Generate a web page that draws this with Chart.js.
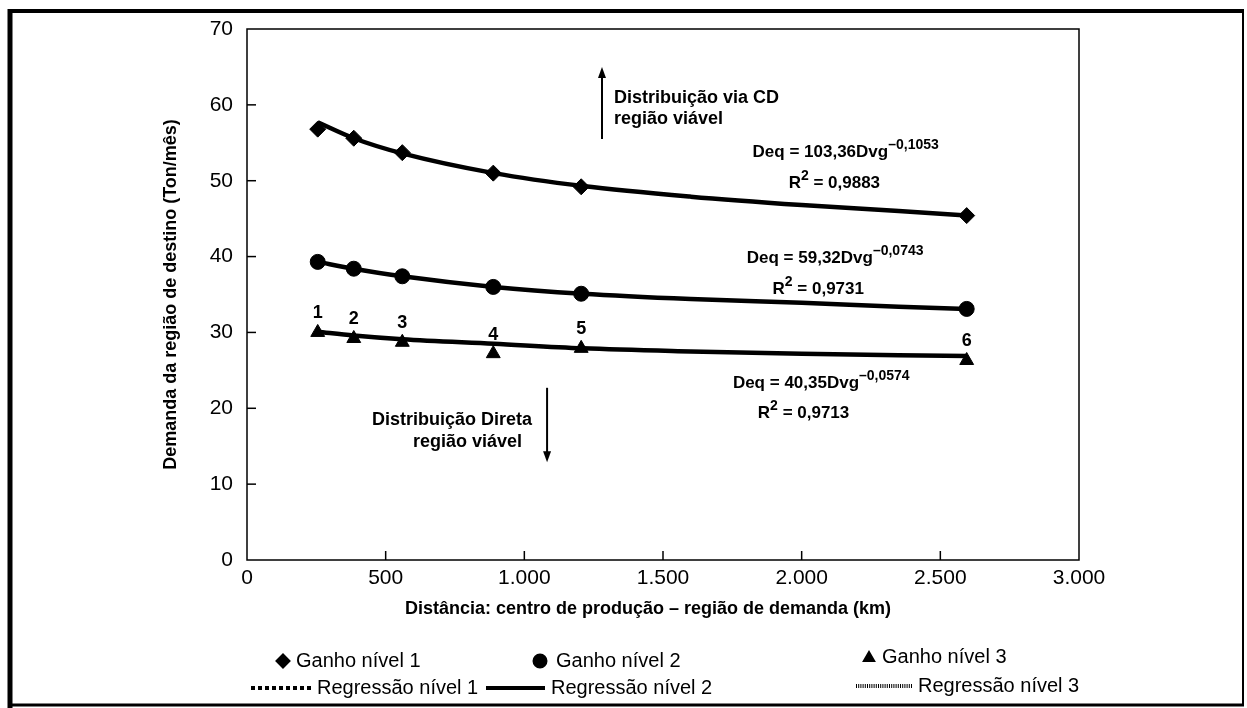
<!DOCTYPE html>
<html lang="pt">
<head>
<meta charset="utf-8">
<title>Demanda da região de destino x distância</title>
<script src="https://cdn.jsdelivr.net/npm/chart.js@4.4.1/dist/chart.umd.min.js"></script>
<style>
  html, body { margin: 0; padding: 0; background: #fff; }
  #wrap { width: 1247px; height: 708px; }
</style>
</head>
<body>
<div id="wrap"><canvas id="demandaChart" width="1247" height="708"></canvas></div>
<script>
// Dados (distância em km, demanda em ton/mês)
const distancias = [255, 385, 560, 888, 1205, 2595];
const ganhoNivel1 = [56.8, 55.6, 53.7, 51.0, 49.2, 45.4];
const ganhoNivel2 = [39.3, 38.4, 37.4, 36.0, 35.1, 33.1];
const ganhoNivel3 = [30.0, 29.2, 28.7, 27.2, 27.9, 26.3];
const rotulosPontos = ["1", "2", "3", "4", "5", "6"];

// Curvas de regressão lidas ao longo do traço
const distRegressao = [255, 385, 560, 890, 1210, 1600, 2000, 2350, 2595];
const regressaoNivel1 = [57.7, 55.6, 53.6, 51.0, 49.3, 47.9, 46.8, 46.0, 45.4];
const regressaoNivel2 = [39.3, 38.4, 37.4, 36.0, 35.1, 34.4, 33.9, 33.4, 33.1];
const regressaoNivel3 = [30.1, 29.6, 29.1, 28.5, 27.9, 27.5, 27.2, 27.0, 26.9];

// Rótulos dos eixos
const yTicks = ["0", "10", "20", "30", "40", "50", "60", "70"];
const xTicks = ["0", "500", "1.000", "1.500", "2.000", "2.500", "3.000"];

const FONTE = '"Liberation Sans", Arial, Helvetica, sans-serif';

function pares(xs, ys) {
    return xs.map((x, i) => ({ x: x, y: ys[i] }));
}

// Textos e setas posicionados em coordenadas do gráfico
const notas = [
    { t: "Distribuição via CD", x: 1323, y: 60.9, align: "left" },
    { t: "região viável", x: 1323, y: 58.1, align: "left" },
    { t: "Distribuição Direta", x: 1028, y: 18.5, align: "right" },
    { t: "região viável", x: 992, y: 15.6, align: "right" },
];
const equacoes = [
    { partes: [["Deq = 103,36Dvg"], ["–0,1053", 1]], x: 1823, y: 53.8 },
    { partes: [["R"], ["2", 1], [" = 0,9883"]], x: 1953, y: 49.7 },
    { partes: [["Deq = 59,32Dvg"], ["–0,0743", 1]], x: 1802, y: 39.8 },
    { partes: [["R"], ["2", 1], [" = 0,9731"]], x: 1895, y: 35.7 },
    { partes: [["Deq = 40,35Dvg"], ["–0,0574", 1]], x: 1752, y: 23.3 },
    { partes: [["R"], ["2", 1], [" = 0,9713"]], x: 1842, y: 19.4 },
];
const setas = [
    { x: 1280, de: 55.5, ate: 65.0 },
    { x: 1082, de: 22.7, ate: 12.9 },
];

function seta(ctx, x, y1, y2) {
    const dir = y2 < y1 ? 1 : -1;
    ctx.beginPath();
    ctx.moveTo(x, y1);
    ctx.lineTo(x, y2 + dir * 8);
    ctx.lineWidth = 2;
    ctx.stroke();
    ctx.beginPath();
    ctx.moveTo(x, y2);
    ctx.lineTo(x - 4, y2 + dir * 11);
    ctx.lineTo(x + 4, y2 + dir * 11);
    ctx.closePath();
    ctx.fill();
}

function marcador(ctx, estilo, x, y, r) {
    Chart.helpers.drawPoint(ctx, { pointStyle: estilo, radius: r, borderWidth: 1, rotation: 0 }, x, y);
}

const decoracao = {
    id: "decoracao",
    afterDraw(chart) {
        const ctx = chart.ctx;
        const a = chart.chartArea;
        const sx = chart.scales.x;
        const sy = chart.scales.y;
        ctx.save();
        ctx.strokeStyle = "#000";
        ctx.fillStyle = "#000";

        // moldura externa
        ctx.lineWidth = 5;
        ctx.beginPath(); ctx.moveTo(10, 9); ctx.lineTo(10, 708); ctx.stroke();
        ctx.lineWidth = 4;
        ctx.beginPath(); ctx.moveTo(8, 11); ctx.lineTo(1244, 11); ctx.stroke();
        ctx.lineWidth = 2;
        ctx.beginPath(); ctx.moveTo(1243, 10); ctx.lineTo(1243, 706); ctx.stroke();
        ctx.lineWidth = 3;
        ctx.beginPath(); ctx.moveTo(8, 705); ctx.lineTo(1244, 705); ctx.stroke();

        // caixa do gráfico e marcas internas
        ctx.lineWidth = 1.5;
        ctx.strokeRect(a.left, a.top, a.right - a.left, a.bottom - a.top);
        sy.ticks.forEach((t) => {
            if (t.value <= 0 || t.value >= 70) return;
            const py = sy.getPixelForValue(t.value);
            ctx.beginPath(); ctx.moveTo(a.left, py); ctx.lineTo(a.left + 9, py); ctx.stroke();
        });
        sx.ticks.forEach((t) => {
            if (t.value <= 0 || t.value >= 3000) return;
            const px = sx.getPixelForValue(t.value);
            ctx.beginPath(); ctx.moveTo(px, a.bottom); ctx.lineTo(px, a.bottom - 9); ctx.stroke();
        });

        // título do eixo x
        ctx.font = "bold 18px " + FONTE;
        ctx.textAlign = "center";
        ctx.textBaseline = "middle";
        ctx.fillText("Distância: centro de produção – região de demanda (km)", 648, 609);

        // números sobre os triângulos
        const meta = chart.getDatasetMeta(5);
        meta.data.forEach((p, i) => {
            ctx.fillText(rotulosPontos[i], p.x, p.y - 19);
        });

        // textos das regiões
        notas.forEach((n) => {
            ctx.textAlign = n.align;
            ctx.fillText(n.t, sx.getPixelForValue(n.x), sy.getPixelForValue(n.y));
        });

        // equações com expoente
        ctx.textAlign = "left";
        equacoes.forEach((e) => {
            let px = sx.getPixelForValue(e.x);
            const py = sy.getPixelForValue(e.y);
            e.partes.forEach((p) => {
                if (p[1]) {
                    ctx.font = "bold 14px " + FONTE;
                    ctx.fillText(p[0], px, py - 7);
                } else {
                    ctx.font = "bold 17px " + FONTE;
                    ctx.fillText(p[0], px, py);
                }
                px += ctx.measureText(p[0]).width;
            });
        });

        setas.forEach((s) => {
            seta(ctx, sx.getPixelForValue(s.x), sy.getPixelForValue(s.de), sy.getPixelForValue(s.ate));
        });

        // legenda
        ctx.font = "20px " + FONTE;
        ctx.textAlign = "left";
        marcador(ctx, "rectRot", 283, 661, 6.5);
        ctx.fillText("Ganho nível 1", 296, 661);
        marcador(ctx, "circle", 540, 661, 6.5);
        ctx.fillText("Ganho nível 2", 556, 661);
        marcador(ctx, "triangle", 869, 658, 6);
        ctx.fillText("Ganho nível 3", 882, 657);

        ctx.lineWidth = 4;
        ctx.setLineDash([4, 3]);
        ctx.beginPath(); ctx.moveTo(251, 688); ctx.lineTo(312, 688); ctx.stroke();
        ctx.fillText("Regressão nível 1", 317, 688);
        ctx.setLineDash([]);
        ctx.beginPath(); ctx.moveTo(486, 688); ctx.lineTo(545, 688); ctx.stroke();
        ctx.fillText("Regressão nível 2", 551, 688);
        ctx.setLineDash([1, 1.2]);
        ctx.lineWidth = 4;
        ctx.beginPath(); ctx.moveTo(856, 686); ctx.lineTo(913, 686); ctx.stroke();
        ctx.setLineDash([]);
        ctx.fillText("Regressão nível 3", 918, 686);

        ctx.restore();
    },
};

const linha = {
    type: "scatter",
    showLine: true,
    borderColor: "#000",
    borderWidth: 4.5,
    pointRadius: 0,
    cubicInterpolationMode: "monotone",
    order: 2,
};
const ponto = {
    backgroundColor: "#000",
    borderColor: "#000",
    borderWidth: 1,
    showLine: false,
    order: 1,
};

const config = {
    type: "scatter",
    data: {
        datasets: [
            Object.assign({ label: "Regressão nível 1", data: pares(distRegressao, regressaoNivel1) }, linha),
            Object.assign({ label: "Regressão nível 2", data: pares(distRegressao, regressaoNivel2) }, linha),
            Object.assign({ label: "Regressão nível 3", data: pares(distRegressao, regressaoNivel3) }, linha),
            Object.assign({ label: "Ganho nível 1", data: pares(distancias, ganhoNivel1), pointStyle: "rectRot", pointRadius: 8 }, ponto),
            Object.assign({ label: "Ganho nível 2", data: pares(distancias, ganhoNivel2), pointStyle: "circle", pointRadius: 7.5 }, ponto),
            Object.assign({ label: "Ganho nível 3", data: pares(distancias, ganhoNivel3), pointStyle: "triangle", pointRadius: 8 }, ponto),
        ],
    },
    options: {
        responsive: false,
        animation: false,
        layout: { padding: { left: 140, top: 29, right: 168, bottom: 86 } },
        plugins: {
            legend: { display: false },
            tooltip: { enabled: false },
        },
        scales: {
            x: {
                type: "linear",
                min: 0,
                max: 3000,
                grid: { display: false, drawTicks: false },
                border: { display: false },
                ticks: {
                    stepSize: 500,
                    autoSkip: false,
                    maxRotation: 0,
                    padding: 6,
                    color: "#000",
                    font: { family: FONTE, size: 21 },
                    callback: (v, i) => xTicks[i],
                },
                afterFit: (s) => { s.height = 62; },
            },
            y: {
                min: 0,
                max: 70,
                grid: { display: false, drawTicks: false },
                border: { display: false },
                ticks: {
                    stepSize: 10,
                    padding: 14,
                    color: "#000",
                    font: { family: FONTE, size: 21 },
                    callback: (v, i) => yTicks[i],
                },
                title: {
                    display: true,
                    text: "Demanda da região de destino (Ton/mês)",
                    color: "#000",
                    font: { family: FONTE, size: 18, weight: "bold" },
                    padding: { top: 20, bottom: 0 },
                },
                afterFit: (s) => { s.width = 107; },
            },
        },
    },
    plugins: [decoracao],
};

const demandaChart = new Chart(document.getElementById("demandaChart"), config);
</script>
</body>
</html>
